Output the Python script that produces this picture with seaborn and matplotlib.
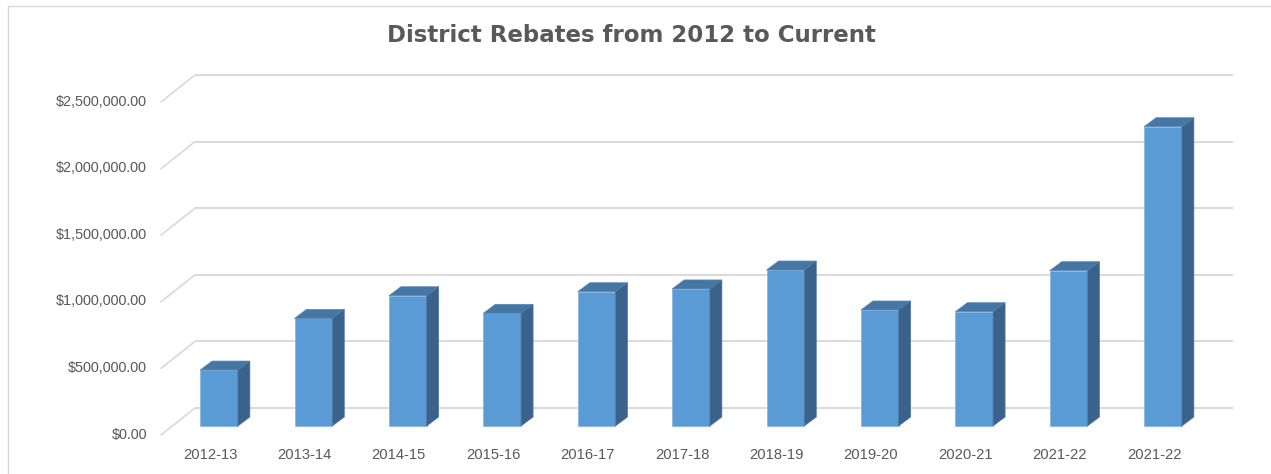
import matplotlib
matplotlib.use("Agg")
import matplotlib.pyplot as plt
import numpy as np
import pandas as pd
import seaborn as sns
from matplotlib.patches import Polygon
from matplotlib.lines import Line2D

# ---- data ----
years = ["2012-13", "2013-14", "2014-15", "2015-16", "2016-17", "2017-18",
         "2018-19", "2019-20", "2020-21", "2021-22", "2021-22"]
rebates = [420000, 808000, 978000, 846000, 1008000, 1029000,
           1171000, 871000, 858000, 1166000, 2247000]
y_ticks = [0, 500000, 1000000, 1500000, 2000000, 2500000]
y_tick_labels = ["$0.00", "$500,000.00", "$1,000,000.00", "$1,500,000.00",
                 "$2,000,000.00", "$2,500,000.00"]
title = "District Rebates from 2012 to Current"

# ---- styling / layout ----
sns.set_style("white")
plt.rcParams["font.family"] = ["Liberation Sans", "DejaVu Sans"]

W, H = 1271, 474
fig = plt.figure(figsize=(W / 100, H / 100), dpi=100)
fig.patch.set_facecolor("white")

L, R, T, B = 152, 1245, 60, 445          # axes box in pixels (from top-left)
x0_px, px_per_cat = 219.0, 94.4          # centre of first bar, spacing
y0_px, px_per_dollar = 426.0, 133.2e-6   # baseline of bar fronts, scale

ax = fig.add_axes([L / W, 1 - B / H, (R - L) / W, (B - T) / H])

df = pd.DataFrame({"pos": np.arange(len(years)), "value": rebates})
sns.barplot(data=df, x="pos", y="value", color="#5B9BD5", saturation=1,
            width=0.40, ax=ax, zorder=3, edgecolor="#8DB6E0", linewidth=0.6,
            errorbar=None)

ax.set_xlim((L - x0_px) / px_per_cat, (R - x0_px) / px_per_cat)
ax.set_ylim((y0_px - B) / px_per_dollar, (y0_px - T) / px_per_dollar)

def cx(px):
    return (px - x0_px) / px_per_cat

def dy(px):
    return px / px_per_dollar

# 3D depth of bars
ddx, ddy = 12 / px_per_cat, dy(9)
top_c, side_c = "#4577A5", "#3A628A"
for p in ax.patches:
    bx, bw, bh = p.get_x(), p.get_width(), p.get_height()
    top = Polygon([(bx, bh), (bx + bw, bh), (bx + bw + ddx, bh + ddy), (bx + ddx, bh + ddy)],
                  closed=True, facecolor=top_c, edgecolor="#5A87B5", linewidth=0.5, zorder=4)
    side = Polygon([(bx + bw, 0), (bx + bw + ddx, ddy), (bx + bw + ddx, bh + ddy), (bx + bw, bh)],
                   closed=True, facecolor=side_c, edgecolor="#4F79A3", linewidth=0.5, zorder=4)
    ax.add_patch(top)
    ax.add_patch(side)

# gridlines on back wall + diagonal side-wall lines
grid_c = "#D9D9D9"
xb0, xb1, xf0 = cx(195), cx(1233), cx(161)
back_off, front_off = dy(18), dy(-9)
for v in y_ticks:
    ax.plot([xb0, xb1], [v + back_off, v + back_off], color=grid_c, lw=1.4, zorder=1,
            solid_capstyle="butt")
    ax.plot([xf0, xb0], [v + front_off, v + back_off], color=grid_c, lw=1.2, zorder=1)

# ticks
ax.set_yticks([v - dy(7) for v in y_ticks])
ax.set_yticklabels(y_tick_labels)
ax.set_xticks(np.arange(len(years)) - 9 / px_per_cat)
ax.set_xticklabels(years)
ax.tick_params(axis="y", length=0, labelsize=10.4, labelcolor="#595959", pad=3.6)
ax.tick_params(axis="x", length=0, labelsize=10.6, labelcolor="#595959", pad=2.5)
ax.set_xlabel("")
ax.set_ylabel("")
for s in ax.spines.values():
    s.set_visible(False)
ax.grid(False)
ax.set_facecolor("none")

fig.text(631 / W, 1 - 36 / H, title, ha="center", va="center", fontsize=16.5,
         fontweight="bold", color="#595959", family="DejaVu Sans")

# chart frame
fig.add_artist(Line2D([8 / W, 1], [1 - 6 / H, 1 - 6 / H], color=grid_c, lw=1.0,
                      transform=fig.transFigure))
fig.add_artist(Line2D([8 / W, 8 / W], [1 - 6 / H, 0], color=grid_c, lw=1.0,
                      transform=fig.transFigure))

fig.savefig("out.png", dpi=100)
